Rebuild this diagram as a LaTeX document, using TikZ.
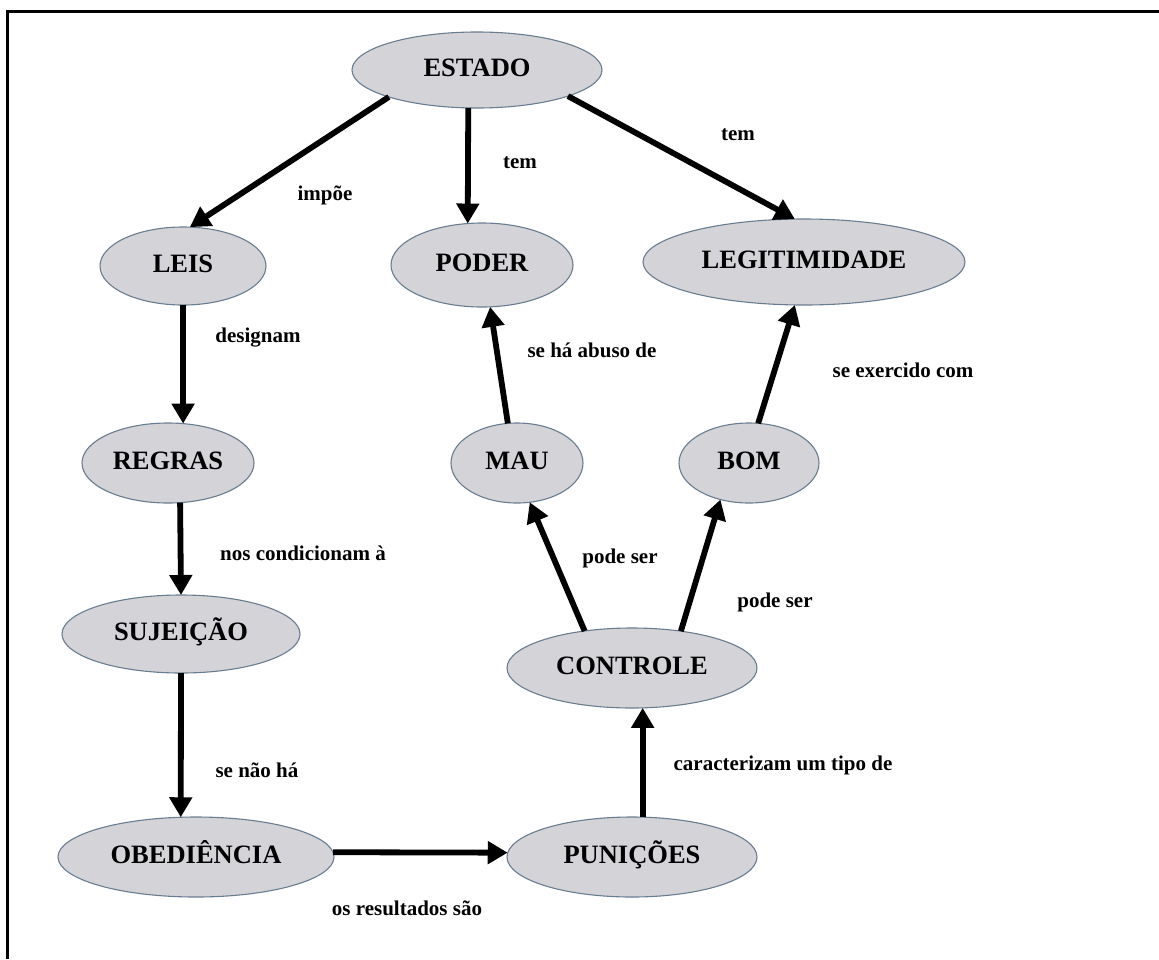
\documentclass[tikz,border=0pt]{standalone}
\usepackage{fontspec}
\setmainfont{Liberation Serif}
\usetikzlibrary{shapes.geometric,arrows.meta}
\definecolor{nodefill}{RGB}{211,211,216}
\definecolor{nodeborder}{RGB}{105,125,145}
\begin{document}
\begin{tikzpicture}[x=1pt,y=-1pt,
  concept/.style={ellipse, draw=nodeborder, line width=1.1pt, fill=nodefill, inner sep=0pt, outer sep=0pt, text height=15pt, text depth=2pt, font=\fontsize{26.5}{28}\selectfont\bfseries},
  lbl/.style={font=\fontsize{21}{24}\selectfont\bfseries, inner sep=0pt},
  link/.style={line width=5.8pt, -{Triangle[length=20pt,width=22pt]}}]
\useasboundingbox (0,0) rectangle (1159,959);
\draw[line width=3pt] (7.5,959) -- (7.5,11.5) -- (1159,11.5);

\node[concept, minimum width=250pt, minimum height=76pt] (estado) at (477,70) {ESTADO};
\node[concept, minimum width=166pt, minimum height=78pt] (leis) at (183,266) {LEIS};
\node[concept, minimum width=182pt, minimum height=84pt] (poder) at (482,265) {PODER};
\node[concept, minimum width=322pt, minimum height=86pt] (legit) at (804,262) {LEGITIMIDADE};
\node[concept, minimum width=172pt, minimum height=80pt] (regras) at (168,463) {REGRAS};
\node[concept, minimum width=132pt, minimum height=80pt] (mau) at (517,463) {MAU};
\node[concept, minimum width=140pt, minimum height=80pt] (bom) at (749,463) {BOM};
\node[concept, minimum width=238pt, minimum height=78pt] (sujeicao) at (181,634) {SUJEIÇÃO};
\node[concept, minimum width=250pt, minimum height=80pt] (controle) at (632,668) {CONTROLE};
\node[concept, minimum width=276pt, minimum height=80pt] (obed) at (196,857) {OBEDIÊNCIA};
\node[concept, minimum width=250pt, minimum height=80pt] (punicoes) at (632,857) {PUNIÇÕES};

\node[lbl] (l1) at (325,195) {impõe};
\node[lbl] (l2) at (520,163) {tem};
\node[lbl] (l3) at (738,135) {tem};
\node[lbl] (l4) at (258,338) {designam};
\node[lbl] (l5) at (592,350) {se há abuso de};
\node[lbl] (l6) at (903,370) {se exercido com};
\node[lbl] (l7) at (303,553) {nos condicionam à};
\node[lbl] (l8) at (620,558) {pode ser};
\node[lbl] (l9) at (775,602) {pode ser};
\node[lbl] (l10) at (257,770) {se não há};
\node[lbl] (l11) at (783,765) {caracterizam um tipo de};
\node[lbl] (l12) at (407,908) {os resultados são};

\draw[link] (estado.197) -- (leis.80);
\draw[link] (estado.257) -- (poder.109);
\draw[link] (estado.344) -- (legit.102);
\draw[link] (leis.270) -- (regras.69);
\draw[link] (regras.287) -- (sujeicao.90);
\draw[link] (sujeicao.270) -- (obed.111);
\draw[link] (obed.2) -- (punicoes.178);
\draw[link] (punicoes.75) -- (controle.285);
\draw[link] (controle.142) -- (mau.288);
\draw[link] (controle.37) -- (bom.232);
\draw[link] (mau.103) -- (poder.281);
\draw[link] (bom.77) -- (legit.258);
\end{tikzpicture}
\end{document}
